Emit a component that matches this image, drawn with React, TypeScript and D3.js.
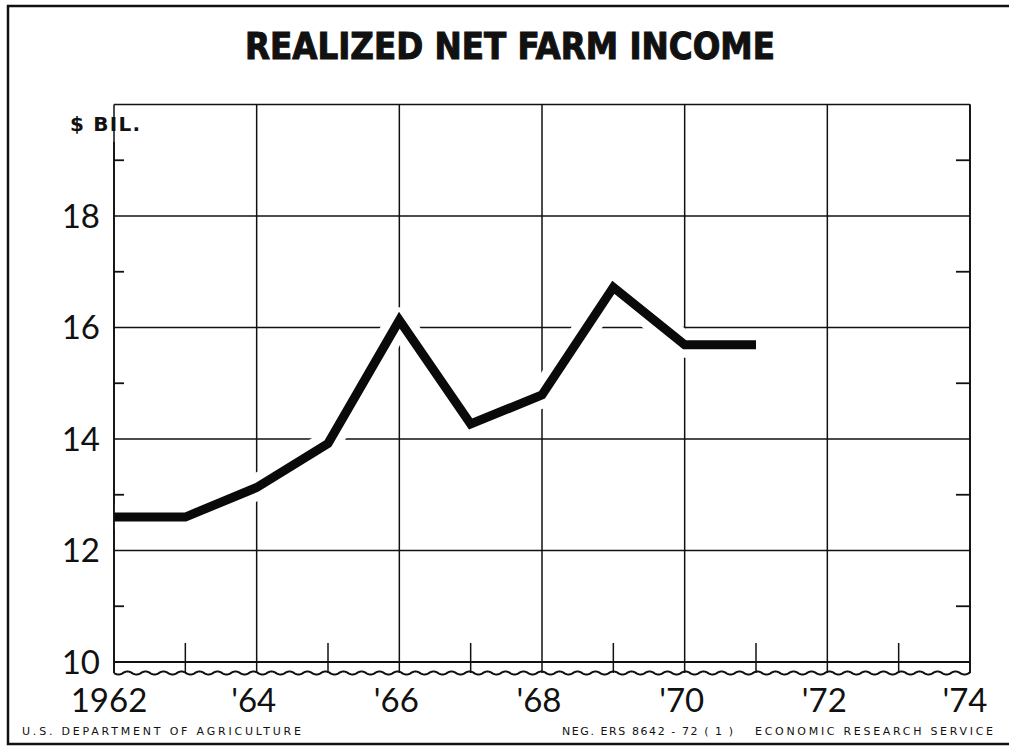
import { useEffect, useRef } from 'react';
import * as d3 from 'd3';

// realized net farm income, $ billion
const years = [1962, 1963, 1964, 1965, 1966, 1967, 1968, 1969, 1970, 1971];
const income = [12.6, 12.6, 13.13, 13.92, 16.13, 14.27, 14.79, 16.72, 15.69, 15.69];

const yTicks = [10, 12, 14, 16, 18];
const yMinor = [11, 13, 15, 17, 19];
const xMajor = [1962, 1964, 1966, 1968, 1970, 1972, 1974];
const xMinor = [1963, 1965, 1967, 1969, 1971, 1973];
const xLabels = ['1962', "'64", "'66", "'68", "'70", "'72", "'74"];

const title = 'REALIZED NET FARM INCOME';
const unitLabel = '$ BIL.';
const footLeft = 'U.S. DEPARTMENT OF AGRICULTURE';
const footMid = 'NEG. ERS 8642 - 72 ( 1 )';
const footRight = 'ECONOMIC RESEARCH SERVICE';

const App = () => {
  const svgRef = useRef<SVGSVGElement>(null);

  useEffect(() => {
    const width = 1009;
    const height = 746;
    const left = 114;
    const right = 970;
    const top = 104.5;
    const base = 662;
    const wavyY = 673;
    const font = 'Lato, "Open Sans", sans-serif';

    const svg = d3.select(svgRef.current);
    svg.selectAll('*').remove();
    svg.attr('width', width).attr('height', height);

    const x = d3.scaleLinear().domain([1962, 1974]).range([left, right]);
    const y = d3.scaleLinear().domain([10, 20]).range([base, top]);

    // outer frame (right side runs off the page)
    svg.append('rect')
      .attr('x', 8).attr('y', 6)
      .attr('width', 1010).attr('height', 738)
      .attr('fill', 'white')
      .attr('stroke', '#111').attr('stroke-width', 2.5);

    // title
    svg.append('text')
      .attr('x', 510).attr('y', 59)
      .attr('text-anchor', 'middle')
      .attr('textLength', 530)
      .attr('lengthAdjust', 'spacingAndGlyphs')
      .style('font-family', '"Liberation Sans Narrow", "DejaVu Sans Condensed", sans-serif')
      .style('font-weight', 'bold')
      .style('font-size', '37px')
      .attr('fill', '#111')
      .attr('stroke', '#111')
      .attr('stroke-width', 1)
      .text(title);

    const grid = svg.append('g').attr('stroke', '#111').attr('stroke-width', 1.5);

    // horizontal gridlines
    grid.selectAll('.hg')
      .data(yTicks.concat([20]))
      .enter()
      .append('line')
      .attr('x1', left).attr('x2', right)
      .attr('y1', d => y(d)).attr('y2', d => y(d));

    // vertical gridlines
    grid.selectAll('.vg')
      .data(xMajor)
      .enter()
      .append('line')
      .attr('x1', d => x(d)).attr('x2', d => x(d))
      .attr('y1', top).attr('y2', wavyY);

    // minor year ticks
    grid.selectAll('.xm')
      .data(xMinor)
      .enter()
      .append('line')
      .attr('x1', d => x(d)).attr('x2', d => x(d))
      .attr('y1', base - 19).attr('y2', wavyY);

    // data line with white halo
    const line = d3.line<number>()
      .x((_, i) => x(years[i]))
      .y(d => y(d));

    svg.append('path')
      .attr('d', line(income))
      .attr('fill', 'none')
      .attr('stroke', 'white')
      .attr('stroke-width', 26)
      .attr('stroke-linejoin', 'round');

    svg.append('path')
      .attr('d', line(income))
      .attr('fill', 'none')
      .attr('stroke', '#0a0a0a')
      .attr('stroke-width', 9)
      .attr('stroke-linejoin', 'miter')
      .attr('stroke-linecap', 'butt');

    // axes (drawn on top of halo)
    const axes = svg.append('g').attr('stroke', '#111').attr('stroke-width', 1.8);
    axes.append('line')
      .attr('x1', left).attr('x2', left)
      .attr('y1', 142).attr('y2', wavyY);
    axes.append('line')
      .attr('x1', right).attr('x2', right)
      .attr('y1', top).attr('y2', wavyY);
    axes.append('line')
      .attr('x1', left).attr('x2', right)
      .attr('y1', base).attr('y2', base);

    // minor value ticks on both sides
    axes.selectAll('.ml')
      .data(yMinor)
      .enter()
      .append('line')
      .attr('x1', left).attr('x2', left + 10)
      .attr('y1', d => y(d)).attr('y2', d => y(d));
    axes.selectAll('.mr')
      .data(yMinor)
      .enter()
      .append('line')
      .attr('x1', right - 14).attr('x2', right)
      .attr('y1', d => y(d)).attr('y2', d => y(d));

    // wavy break line along the bottom
    const wave = d3.range(left, right + 0.5, 1).map(v => [v, wavyY + 1.6 * Math.sin((v - left) / 18 * 2 * Math.PI)] as [number, number]);
    svg.append('path')
      .attr('d', d3.line()(wave))
      .attr('fill', 'none')
      .attr('stroke', '#111')
      .attr('stroke-width', 2);

    // value labels
    svg.selectAll('.yl')
      .data(yTicks)
      .enter()
      .append('text')
      .attr('x', 100)
      .attr('y', d => y(d))
      .attr('dy', '0.36em')
      .attr('text-anchor', 'end')
      .style('font-family', font)
      .style('font-size', '33px')
      .attr('fill', '#111')
      .text(d => d);

    svg.append('text')
      .attr('x', 70).attr('y', 131)
      .attr('textLength', 70)
      .attr('lengthAdjust', 'spacing')
      .style('font-family', '"DejaVu Sans", sans-serif')
      .style('font-weight', 'bold')
      .style('font-size', '20px')
      .attr('fill', '#111')
      .text(unitLabel);

    // year labels
    svg.selectAll('.xl')
      .data(xMajor)
      .enter()
      .append('text')
      .attr('x', (d, i) => x(d) - (i === 0 ? 5 : i === xMajor.length - 1 ? 5 : 3))
      .attr('y', 712)
      .attr('text-anchor', 'middle')
      .style('font-family', font)
      .style('font-size', '33px')
      .attr('fill', '#111')
      .text((_, i) => xLabels[i]);

    // footer
    const foot = [
      { t: footLeft, x: 22, w: 279 },
      { t: footMid, x: 562, w: 171 },
      { t: footRight, x: 755, w: 238 },
    ];
    svg.selectAll('.ft')
      .data(foot)
      .enter()
      .append('text')
      .attr('x', d => d.x)
      .attr('y', 735)
      .attr('textLength', d => d.w)
      .attr('lengthAdjust', 'spacing')
      .style('font-family', '"DejaVu Sans", sans-serif')
      .style('font-size', '11px')
      .attr('fill', '#111')
      .text(d => d.t);
  }, []);

  return <svg ref={svgRef} style={{ position: 'absolute', left: 0, top: 0 }}></svg>;
};

export default App;
